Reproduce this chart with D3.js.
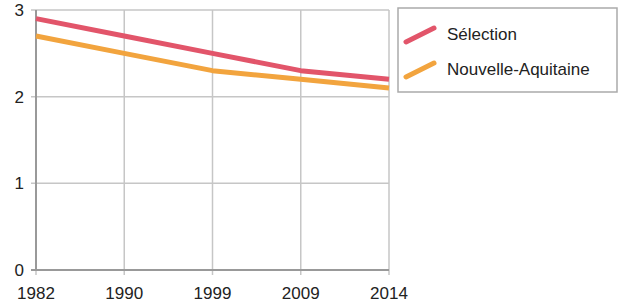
<!DOCTYPE html>
<html><head><meta charset="utf-8">
<script src="https://cdn.jsdelivr.net/npm/d3@7"></script>
<style>body{margin:0;background:#fff}svg{display:block}text{font-family:"Liberation Sans",Arial,sans-serif}</style>
</head><body><svg id="c" width="619" height="303"></svg>
<script>
const years = ["1982","1990","1999","2009","2014"];
const selection = [2.9, 2.7, 2.5, 2.3, 2.2];
const nouvelleAquitaine = [2.7, 2.5, 2.3, 2.2, 2.1];
const yTicks = [0, 1, 2, 3];
const seriesNames = ["Sélection", "Nouvelle-Aquitaine"];
const colors = ["#e2556a", "#f2a43e"];

const svg = d3.select("#c");
const L = 36, R = 389, T = 10, B = 270;
const x = d3.scalePoint().domain(years).range([L, R]);
const y = d3.scaleLinear().domain([0, 3]).range([B, T]);

// gridlines
svg.append("g").selectAll("line").data(years).join("line")
  .attr("x1", d => x(d)).attr("x2", d => x(d)).attr("y1", T).attr("y2", B + 5)
  .attr("stroke", "#c6c6c6").attr("stroke-width", 1.5);
svg.append("g").selectAll("line").data(yTicks).join("line")
  .attr("x1", L - 5).attr("x2", R).attr("y1", d => y(d)).attr("y2", d => y(d))
  .attr("stroke", "#c6c6c6").attr("stroke-width", 1.5);
// axes
svg.append("line").attr("x1", L).attr("x2", L).attr("y1", T).attr("y2", B)
  .attr("stroke", "#999").attr("stroke-width", 2);
svg.append("line").attr("x1", L - 5).attr("x2", R).attr("y1", B).attr("y2", B)
  .attr("stroke", "#999").attr("stroke-width", 2);

svg.append("g").selectAll("text").data(yTicks).join("text")
  .attr("x", 24).attr("y", d => y(d) + 6).attr("text-anchor", "end")
  .attr("font-size", 17).attr("fill", "#222").text(d => d);
svg.append("g").selectAll("text").data(years).join("text")
  .attr("x", d => x(d)).attr("y", 299).attr("text-anchor", "middle")
  .attr("font-size", 17).attr("fill", "#222").text(d => d);

const line = d3.line().x((d, i) => x(years[i])).y(d => y(d));
[selection, nouvelleAquitaine].forEach((s, k) => {
  svg.append("path").attr("d", line(s)).attr("fill", "none")
    .attr("stroke", colors[k]).attr("stroke-width", 5).attr("stroke-linejoin", "round");
});

// legend
svg.append("rect").attr("x", 398).attr("y", 8).attr("width", 219).attr("height", 84)
  .attr("fill", "#fff").attr("stroke", "#aaa").attr("stroke-width", 1.5);
seriesNames.forEach((n, k) => {
  const cy = 35 + k * 35;
  svg.append("line").attr("x1", 406).attr("x2", 434).attr("y1", cy + 7).attr("y2", cy - 7)
    .attr("stroke", colors[k]).attr("stroke-width", 5).attr("stroke-linecap", "round");
  svg.append("text").attr("x", 447).attr("y", cy + 5).attr("font-size", 17)
    .attr("fill", "#222").text(n);
});
</script></body></html>
